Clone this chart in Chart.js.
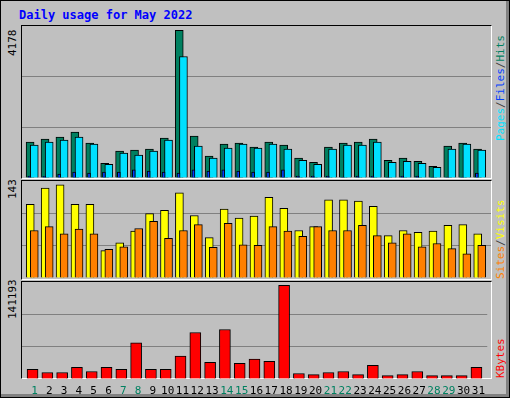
<!DOCTYPE html>
<html><head><meta charset="utf-8">
<script src="https://cdn.jsdelivr.net/npm/chart.js@4/dist/chart.umd.min.js"></script>
<style>
body{margin:0;background:#fff;}
#wrap{position:relative;width:510px;height:398px;background:#C0C0C0;border:1px solid #000;box-sizing:border-box;overflow:hidden;}
#wrap:after{content:"";position:absolute;left:0;top:0;right:0;bottom:0;border-right:3px solid #808080;border-bottom:3px solid #808080;pointer-events:none;}
.t{position:absolute;font-family:"DejaVu Sans Mono",monospace;white-space:nowrap;}
.panel{position:absolute;left:20px;width:471px;border-top:1px solid #000;border-left:1px solid #000;border-right:1px solid #fff;border-bottom:1px solid #fff;box-sizing:border-box;}
.rot{position:absolute;transform:rotate(-90deg);transform-origin:left top;font-family:"DejaVu Sans Mono",monospace;font-size:11px;white-space:nowrap;}
canvas{position:absolute;}
</style></head><body>
<div id="wrap">
<div class="t" style="left:18px;top:7px;font-size:12px;font-weight:bold;color:#0000FF">Daily usage for May 2022</div>
<div class="panel" style="top:24px;height:154px"></div>
<div class="panel" style="top:179px;height:100px"></div>
<div class="panel" style="top:280px;height:98px"></div>
<div class="rot" style="left:5px;top:55px;">4178</div>
<div class="rot" style="left:5px;top:198px;">143</div>
<div class="rot" style="left:5px;top:318px;">141193</div>
<div class="rot" style="left:493px;top:140px;"><span style="color:#00E0FF">Pages</span><span style="color:#404040">/</span><span style="color:#0040FF">Files</span><span style="color:#404040">/</span><span style="color:#008060">Hits</span></div>
<div class="rot" style="left:493px;top:278px;"><span style="color:#FF8000">Sites</span><span style="color:#404040">/</span><span style="color:#FFFF00">Visits</span></div>
<div class="rot" style="left:493px;top:377px;"><span style="color:#FF0000">KBytes</span></div>
<canvas id="c1" style="left:21px;top:25px;width:469px;height:152px"></canvas>
<canvas id="c2" style="left:21px;top:180px;width:469px;height:97px"></canvas>
<canvas id="c3" style="left:21px;top:281px;width:469px;height:116px"></canvas>
</div>
<script>
const days=[1,2,3,4,5,6,7,8,9,10,11,12,13,14,15,16,17,18,19,20,21,22,23,24,25,26,27,28,29,30,31];
const weekend=[1,7,8,14,15,21,22,28,29];
const hits=[1016,1101,1158,1301,987,418,760,788,817,1130,4178,1187,617,959,987,874,1016,930,560,446,874,987,1016,1101,503,560,475,332,902,987,817];
const files=[930,1016,1073,1158,959,389,703,646,760,1073,3437,902,560,845,959,845,959,817,503,389,817,930,930,1016,446,475,418,304,817,959,788];
const pages=[57,47,114,171,142,171,171,228,199,171,142,228,199,228,199,171,171,228,57,57,57,28,57,57,28,57,57,28,28,28,142];
const visits=[113,138,143,113,113,42,54,72,99,104,131,96,62,106,92,95,124,107,73,79,120,120,118,110,65,73,70,72,81,82,68];
const sites=[73,79,68,75,68,44,48,76,87,61,73,82,47,84,51,50,79,72,64,79,73,73,81,65,54,68,48,53,45,37,50];
const kbytes=[14428,9790,9790,17520,11337,17520,14428,54622,14428,14428,34525,70081,25250,74719,23704,29887,26796,141193,8245,6699,9790,11337,6699,20612,5153,6699,11337,5153,5153,5153,17520];

const XMIN=0.157, XMAX=31.6;
function pts(arr,off){return arr.map((v,i)=>({x:days[i]+off,y:v}));}
function ds(arr,off,color,w){return {data:pts(arr,off),backgroundColor:color,borderColor:'#000',borderWidth:1,barThickness:w,grouped:false,borderSkipped:'bottom'};}
function make(id,datasets,ymax,showX){
  return new Chart(document.getElementById(id),{type:'bar',data:{datasets},
    options:{responsive:false,animation:false,maintainAspectRatio:false,
      layout:{padding:0},
      plugins:{legend:{display:false},tooltip:{enabled:false}},
      scales:{
        x:{type:'linear',min:XMIN,max:XMAX,offset:false,
          grid:{display:false,drawTicks:false},border:{display:false},
          afterBuildTicks:s=>{s.ticks=days.map(v=>({value:v}));},
          afterFit:s=>{s.height=showX?19:0;},
          ticks:{display:showX,autoSkip:false,padding:6,maxRotation:0,
            callback:v=>String(v),
            color:c=>weekend.includes(c.tick.value)?'#008060':'#000',
            font:{family:'DejaVu Sans Mono',size:11}}},
        y:{min:0,max:ymax,afterFit:s=>{s.width=0;},
          ticks:{display:false,stepSize:ymax/3},
          grid:{color:c=>(c.tick.value>0&&c.tick.value<ymax-1)?'#808080':'rgba(0,0,0,0)',drawTicks:false,lineWidth:1},
          border:{display:false}}
      }}});
}
['c1','c2','c3'].forEach(id=>{const c=document.getElementById(id);c.width=parseInt(c.style.width);c.height=parseInt(c.style.height);});
make('c1',[ds(pages,-0.35,'#0040FF',3),ds(files,-0.02,'#00E0FF',8),ds(hits,-0.3,'#008060',8)],4300,false);
make('c2',[ds(sites,-0.02,'#FF8000',8),ds(visits,-0.29,'#FFFF00',8)],149,false);
make('c3',[ds(kbytes,-0.13,'#FF0000',11)],146300,true);
</script>
</body></html>
